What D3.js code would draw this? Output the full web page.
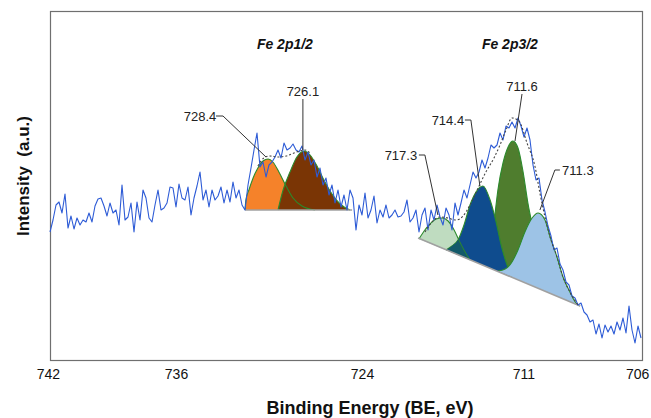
<!DOCTYPE html>
<html>
<head>
<meta charset="utf-8">
<script src="https://cdn.jsdelivr.net/npm/d3@7"></script>
<style>
  body { margin: 0; background: #fff; }
  svg { display: block; font-family: "Liberation Sans", Arial, sans-serif; }
</style>
</head>
<body>
<svg id="chart"></svg>
<script>
// XPS Fe 2p spectrum, one reading per channel (channels run left to right, high BE -> low BE)
const intensity = [
  128,140,155,158,147,166,132,144,131,142,135,140,138,147,138,154,161,162,154,144,
  157,147,150,135,175,140,143,157,128,158,140,170,162,142,138,155,170,150,152,157,
  173,172,153,176,162,160,173,145,162,174,188,
  160,170,153,170,160,164,173,157,170,158,178,162,170,155,150,
  175,192,210,227,193,198,183,195,198,203,210,202,217,210,212,216,210,208,214,200,
  208,195,200,183,192,175,182,165,175,157,170,153,165,150,170,162,130,155,
  145,167,142,150,164,137,150,143,155,142,145,150,143,144,148,160,138,142,150,128,
  145,152,130,150,140,155,143,135,152,145,130,157,145,157,170,162,175,188,182,188,
  200,192,202,215,212,215,227,220,234,232,
  238,232,242,234,223,232,220,195,180,182,160,148,134,124,110,112,96,
  90,78,75,64,62,55,57,48,45,38,
  40,26,36,22,35,28,34,26,38,30,42,27,54,30,17,34,22
];

// category-style axis: labels sit on these channels
const tickChannels = [-0.7, 42, 104, 157.8, 195.7];
const tickLabels = ['742', '736', '724', '711', '706'];

// fitted components, [channel, intensity]
const base2p12 = [[65, 150], [100.7, 150]];
const peak7284 = [[65,150],[65.3,160],[66.3,170],[67.7,182],[69.3,192],[71,199],[72.7,201],[74.3,198],[76.3,188],[78.7,174],[81,162],[84,154],[88.3,150]];
const peak7261 = [[76,150],[77.7,170],[80,188],[82.3,203],[84.7,209],[86.7,205],[89,194],[91.3,180],[94,166],[96.7,156],[100,150]];
const envelope2p12 = [[69.3,194],[71.3,202],[73.3,204],[76,203],[78.7,204],[81.3,207],[83.3,209],[85,210],[87,206]];

const base2p32 = [[122.7, 122], [176.7, 54]];
const peak7173 = [[123,121],[124.7,129],[126.7,136],[128.7,141],[130.7,142],[132.7,139],[134.7,130],[136.3,120],[138,110],[140,100]];
const peak7144 = [[132,110],[134,114],[136,120],[138,135],[140,155],[142,168],[144.3,174],[146.7,160],[148.7,138],[150.3,116],[152,98],[154,83]];
const peak7116 = [[146,93],[147.3,120],[148.3,145],[149.3,170],[151,197],[152.7,213],[154.3,219],[156,212],[157.7,188],[159.3,157],[160.7,135],[162.3,105],[164,72]];
const peak7113 = [[149.3,89],[151.7,91],[153.3,95],[156,110],[158.3,128],[160.7,142],[162.7,147],[165,140],[166.7,123],[169,103],[171,83],[173.3,68],[175.3,57],[176.7,54]];
const envelope2p32 = [[125,128],[127.3,138],[130,143],[132.7,142],[135.3,140],[137.7,144],[140,155],[142.7,172],[145.3,188],[148,202],[150,215],[152,230],[154,242],[156.3,239],[159,217],[161.7,193],[163.3,167],[165,143],[166.7,123],[169,103],[171,83],[173.3,68],[176,55]];

// peak labels and the point each leader line points at
const peakLabels = ['728.4', '726.1', '717.3', '714.4', '711.6', '711.3'];
const peakPoints = [[72, 203], [84.3, 210], [129.3, 145], [143.3, 174], [155, 219], [163.3, 150]];

const groupTitles = ['Fe 2p1/2', 'Fe 2p3/2'];
const groupTitleAt = [[78.3, 316], [153.3, 316]];

const width = 651, height = 418;
const margin = { top: 11, right: 9, bottom: 58, left: 50 };
const w = width - margin.left - margin.right;
const h = height - margin.top - margin.bottom;

const x = d3.scaleLinear().domain([0, intensity.length - 1]).range([0, 591]);
const y = d3.scaleLinear().domain([0, 349]).range([h, 0]);

const svg = d3.select('#chart').attr('width', width).attr('height', height);
const g = svg.append('g').attr('transform', `translate(${margin.left},${margin.top})`);

const line = d3.line().x(d => x(d[0])).y(d => y(d[1]));
const smooth = d3.line().x(d => x(d[0])).y(d => y(d[1])).curve(d3.curveMonotoneX);
const shape = pts => smooth(pts) + 'Z';
const OUTLINE = '#2c8a2c';

// frame
g.append('rect')
  .attr('x', 0.5).attr('y', 0.5)
  .attr('width', w).attr('height', h)
  .attr('fill', 'none').attr('stroke', '#6f6f6f').attr('stroke-width', 1.2);

// x axis labels only
const xAxis = d3.axisBottom(x)
  .tickValues(tickChannels)
  .tickFormat((d, i) => tickLabels[i])
  .tickSize(0)
  .tickPadding(9);
const ax = g.append('g').attr('transform', `translate(0,${h})`).call(xAxis);
ax.select('.domain').remove();
ax.selectAll('text').attr('font-size', 14).attr('fill', '#111')
  .attr('font-family', '"Liberation Sans", Arial, sans-serif');

// Fe 2p1/2 components (outlines on top of both fills)
const fills = g.append('g');
fills.append('path').attr('d', shape(peak7284)).attr('fill', '#f5822a');
fills.append('path').attr('d', shape(peak7261)).attr('fill', '#7a3505');
[peak7284, peak7261].forEach(p => {
  fills.append('path').attr('d', smooth(p)).attr('fill', 'none')
    .attr('stroke', OUTLINE).attr('stroke-width', 1.1);
});

// Fe 2p3/2 components, each one drawn with its own outline
function component(pts, colour) {
  fills.append('path').attr('d', shape(pts)).attr('fill', colour);
  fills.append('path').attr('d', smooth(pts)).attr('fill', 'none')
    .attr('stroke', OUTLINE).attr('stroke-width', 1.1);
}
component(peak7173, '#bfdcc0');
component(peak7116, '#4f7d2e');
component(peak7144, '#0f4c8e');

// overlap of 717.3 and 714.4
svg.append('defs').append('clipPath').attr('id', 'clip7144')
  .append('path').attr('d', shape(peak7144));
fills.append('path').attr('d', shape(peak7173)).attr('fill', '#135a6a')
  .attr('clip-path', 'url(#clip7144)');
fills.append('path').attr('d', smooth(peak7173)).attr('fill', 'none')
  .attr('stroke', OUTLINE).attr('stroke-width', 1)
  .attr('clip-path', 'url(#clip7144)');

component(peak7113, '#9dc3e6');

// backgrounds
[base2p12, base2p32].forEach(b => {
  g.append('path').attr('d', line(b)).attr('fill', 'none')
    .attr('stroke', '#a0a0a0').attr('stroke-width', 1.6);
});

// measured spectrum
g.append('path')
  .datum(intensity)
  .attr('d', d3.line().x((d, i) => x(i)).y(d => y(d)))
  .attr('fill', 'none')
  .attr('stroke', '#2d5bd6')
  .attr('stroke-width', 1.1)
  .attr('stroke-linejoin', 'round');

// fitted envelopes
[envelope2p12, envelope2p32].forEach(e => {
  g.append('path').attr('d', smooth(e)).attr('fill', 'none')
    .attr('stroke', '#444').attr('stroke-width', 1.1).attr('stroke-dasharray', '2,2');
});

// leader lines + labels: [text dx, text dy, elbow dx, end dx] relative to the peak point
const labelLayout = [
  [-66, -41, -43, -50],
  [0, -59, 0, 0],
  [-37, -60, -13, -19],
  [-32, -66, -9, -15],
  [7, -55, 7, 7],
  [38, -40, 15, 20]
];
peakLabels.forEach((t, i) => {
  const px = x(peakPoints[i][0]), py = y(peakPoints[i][1]);
  const [dx, dy, ex, ex2] = labelLayout[i];
  const vertical = ex === ex2;
  const pts = vertical
    ? [[px, py], [px + ex, py + dy + 8]]
    : [[px, py], [px + ex, py + dy], [px + ex2, py + dy]];
  g.append('path').attr('d', d3.line()(pts)).attr('fill', 'none')
    .attr('stroke', '#333').attr('stroke-width', 1);
  g.append('text')
    .attr('x', px + dx).attr('y', py + dy)
    .attr('dy', '0.35em')
    .attr('text-anchor', 'middle')
    .attr('font-size', 13)
    .attr('fill', '#222')
    .text(t);
});

// group titles
groupTitles.forEach((t, i) => {
  g.append('text')
    .attr('x', x(groupTitleAt[i][0])).attr('y', y(groupTitleAt[i][1]))
    .attr('dy', '0.35em')
    .attr('text-anchor', 'middle')
    .attr('font-size', 14).attr('font-weight', 'bold').attr('font-style', 'italic')
    .attr('fill', '#111')
    .text(t);
});

// axis titles
svg.append('text')
  .attr('x', 370).attr('y', 414)
  .attr('text-anchor', 'middle')
  .attr('font-size', 18).attr('font-weight', 'bold').attr('fill', '#111')
  .text('Binding Energy (BE, eV)');

svg.append('text')
  .attr('transform', 'translate(29,176) rotate(-90)')
  .attr('text-anchor', 'middle')
  .attr('font-size', 17).attr('font-weight', 'bold').attr('fill', '#111')
  .style('white-space', 'pre')
  .text('Intensity  (a.u.)');
</script>
</body>
</html>
